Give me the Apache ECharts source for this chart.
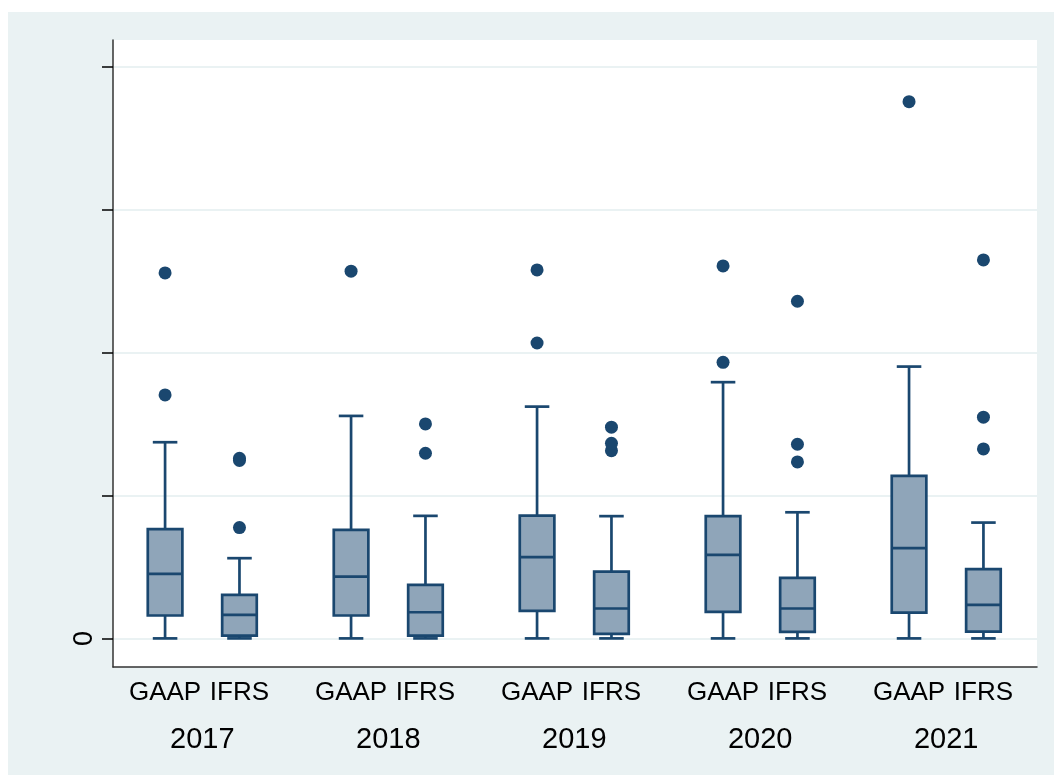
<!DOCTYPE html>
<html>
<head>
<meta charset="utf-8">
<script src="https://cdn.jsdelivr.net/npm/echarts@6/dist/echarts.min.js"></script>
<style>
  html, body { margin: 0; padding: 0; background: #ffffff; }
  #chart { position: absolute; left: 8px; top: 12px; width: 1046px; height: 763px; }
</style>
</head>
<body>
<div id="chart"></div>
<script>
// Years and accounting standards compared in each year
const years = ['2017', '2018', '2019', '2020', '2021'];
const standards = ['GAAP', 'IFRS'];

// Box statistics per year: [lower whisker, Q1, median, Q3, upper whisker]
const gaapStats = [
  [0, 0.160, 0.451, 0.764, 1.372],
  [0, 0.160, 0.432, 0.759, 1.556],
  [0, 0.192, 0.568, 0.859, 1.621],
  [0, 0.185, 0.584, 0.855, 1.792],
  [0, 0.180, 0.631, 1.136, 1.901]
];
const ifrsStats = [
  [0, 0.020, 0.164, 0.304, 0.561],
  [0, 0.020, 0.183, 0.374, 0.857],
  [0, 0.031, 0.209, 0.467, 0.855],
  [0, 0.045, 0.209, 0.423, 0.882],
  [0, 0.048, 0.234, 0.484, 0.810]
];

// Outside values per year
const gaapOutliers = [
  [1.703, 2.556],
  [2.568],
  [2.066, 2.577],
  [1.931, 2.605],
  [3.754]
];
const ifrsOutliers = [
  [0.775, 1.245, 1.260],
  [1.295, 1.500],
  [1.313, 1.365, 1.477],
  [1.234, 1.358, 2.358],
  [1.325, 1.547, 2.647]
];

// Y axis: tick values and the labels shown
const yTicks = [0, 1, 2, 3, 4];
const yLabelTicks = [0];

// ---- layout on the x scale ----
const GROUP_STEP = 5;      // distance between years
const INNER_STEP = 2;      // distance between the two boxes of a year
const FIRST_POS = 1.4;     // position of the first box
const X_MAX = 24.84;
const BOX_W = 0.93;
const CAP_W = 0.66;

const NAVY = '#1a476f';
const FILL = '#8fa5b9';
const BG = '#eaf2f3';

function boxPos(yearIdx, stdIdx) {
  return FIRST_POS + yearIdx * GROUP_STEP + stdIdx * INNER_STEP;
}

const statsByStd = [gaapStats, ifrsStats];
const outliersByStd = [gaapOutliers, ifrsOutliers];

const boxData = [];
const pointData = [];
const boxLabelPos = [];
const boxLabelText = {};
const yearLabelPos = [];
const yearLabelText = {};

years.forEach((yr, i) => {
  standards.forEach((std, j) => {
    const x = boxPos(i, j);
    boxData.push([x].concat(statsByStd[j][i]));
    outliersByStd[j][i].forEach(v => pointData.push([x, v]));
    boxLabelPos.push(x);
    boxLabelText[x.toFixed(2)] = std;
  });
  const c = (boxPos(i, 0) + boxPos(i, 1)) / 2;
  yearLabelPos.push(c);
  yearLabelText[c.toFixed(2)] = yr;
});

function renderBox(params, api) {
  const x = api.value(0);
  const low = api.coord([x, api.value(1)]);
  const q1 = api.coord([x, api.value(2)]);
  const med = api.coord([x, api.value(3)]);
  const q3 = api.coord([x, api.value(4)]);
  const high = api.coord([x, api.value(5)]);
  const halfBox = api.size([BOX_W, 0])[0] / 2;
  const halfCap = api.size([CAP_W, 0])[0] / 2;
  const cx = low[0];
  const lineStyle = { stroke: NAVY, lineWidth: 2.7, fill: null };
  return {
    type: 'group',
    children: [
      { type: 'line', shape: { x1: cx, y1: low[1], x2: cx, y2: q1[1] }, style: lineStyle },
      { type: 'line', shape: { x1: cx, y1: q3[1], x2: cx, y2: high[1] }, style: lineStyle },
      { type: 'line', shape: { x1: cx - halfCap, y1: low[1], x2: cx + halfCap, y2: low[1] }, style: lineStyle },
      { type: 'line', shape: { x1: cx - halfCap, y1: high[1], x2: cx + halfCap, y2: high[1] }, style: lineStyle },
      {
        type: 'rect',
        shape: { x: cx - halfBox, y: q3[1], width: halfBox * 2, height: q1[1] - q3[1] },
        style: { fill: FILL, stroke: NAVY, lineWidth: 2.7 }
      },
      { type: 'line', shape: { x1: cx - halfBox, y1: med[1], x2: cx + halfBox, y2: med[1] }, style: lineStyle }
    ]
  };
}

const FONT = "'Liberation Sans', Arial, sans-serif";

const chart = echarts.init(document.getElementById('chart'), null, { renderer: 'canvas' });
chart.setOption({
  backgroundColor: BG,
  animation: false,
  grid: {
    left: 105, right: 17, top: 28, bottom: 108,
    show: true, backgroundColor: '#ffffff', borderWidth: 0
  },
  xAxis: [
    {
      type: 'value', min: 0, max: X_MAX, position: 'bottom',
      axisLine: { show: true, onZero: false, lineStyle: { color: '#333333', width: 1.5 } },
      axisTick: { show: false },
      splitLine: { show: false },
      axisLabel: {
        customValues: boxLabelPos,
        formatter: v => boxLabelText[Number(v).toFixed(2)] || '',
        margin: 13, fontSize: 26, color: '#000000', fontFamily: FONT
      }
    },
    {
      type: 'value', min: 0, max: X_MAX, position: 'bottom',
      axisLine: { show: false },
      axisTick: { show: false },
      splitLine: { show: false },
      axisLabel: {
        customValues: yearLabelPos,
        formatter: v => yearLabelText[Number(v).toFixed(2)] || '',
        margin: 58, fontSize: 29, color: '#000000', fontFamily: FONT
      }
    }
  ],
  yAxis: {
    type: 'value', min: -0.2, max: 4.185,
    axisLine: { show: true, lineStyle: { color: '#333333', width: 1.5 } },
    axisTick: { show: true, customValues: yTicks, length: 11, lineStyle: { color: '#000000', width: 1.5 } },
    splitLine: { show: true, lineStyle: { color: BG, width: 2.2 } },
    axisLabel: {
      customValues: yLabelTicks,
      rotate: 90, margin: 15, fontSize: 27, color: '#000000', fontFamily: FONT,
      formatter: v => String(Math.round(v))
    }
  },
  series: [
    {
      type: 'custom',
      xAxisIndex: 0,
      renderItem: renderBox,
      encode: { x: 0, y: [1, 2, 3, 4, 5] },
      data: boxData,
      z: 2
    },
    {
      type: 'scatter',
      xAxisIndex: 0,
      symbol: 'circle',
      symbolSize: 13,
      itemStyle: { color: NAVY, opacity: 1 },
      data: pointData,
      z: 3
    }
  ]
});
</script>
</body>
</html>
